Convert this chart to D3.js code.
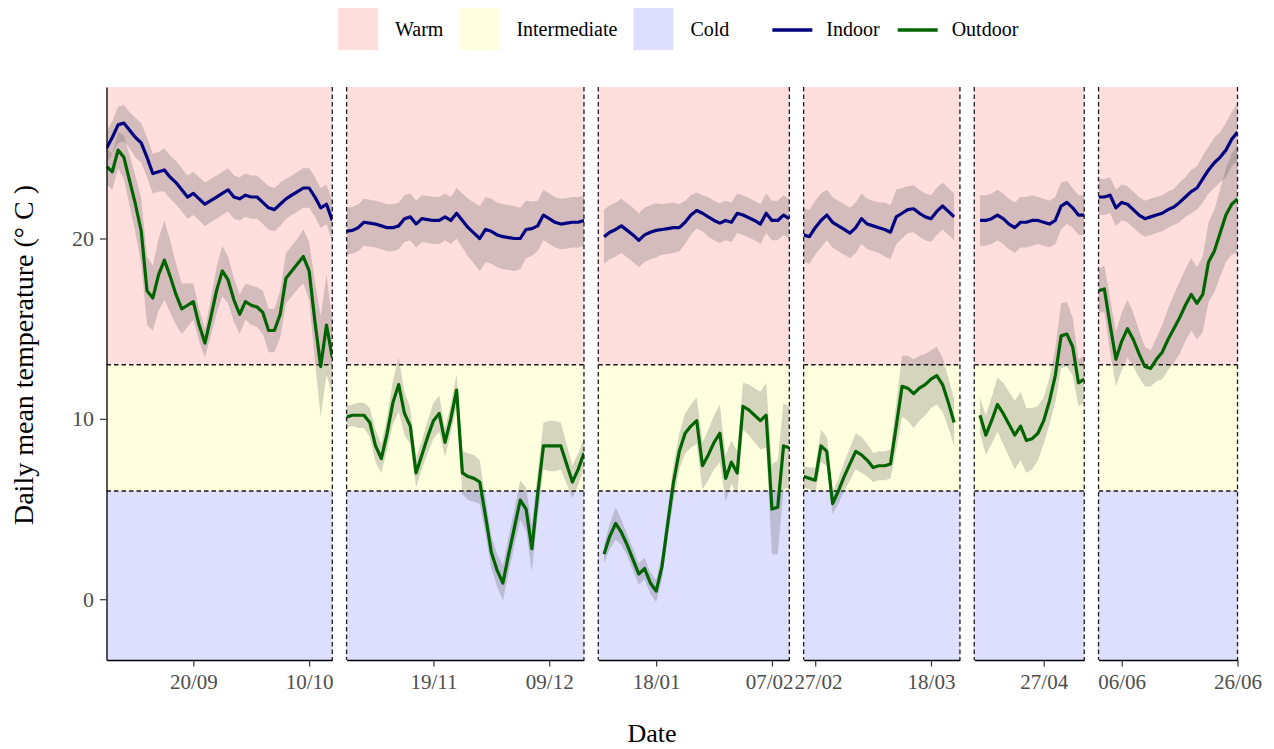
<!DOCTYPE html>
<html>
<head>
<meta charset="utf-8">
<script src="https://cdn.jsdelivr.net/npm/d3@7"></script>
<style>
  html, body { margin: 0; padding: 0; background: #ffffff; }
  svg { display: block; font-family: "Liberation Serif", "Times New Roman", serif; }
</style>
</head>
<body>
<svg id="chart" width="1274" height="749"></svg>
<script>
// Monitoring periods (one facet each) and the first day with data in each
const panelStarts  = ["2019-09-05", "2019-11-04", "2020-01-08", "2020-02-25", "2020-04-15", "2020-06-02"];
const panelEnds    = ["2019-10-14", "2019-12-15", "2020-02-10", "2020-03-23", "2020-05-04", "2020-06-26"];
const seriesStarts = ["2019-09-05", "2019-11-04", "2020-01-09", "2020-02-25", "2020-04-16", "2020-06-02"];

// Daily mean indoor temperature (°C), one array per period
const indoorMean = [
  [25.0,25.6,26.3,26.4,26.0,25.6,25.3,24.5,23.6,23.7,23.8,23.4,23.1,22.7,22.3,22.5,22.2,21.9,22.1,22.3,
   22.5,22.7,22.3,22.2,22.4,22.3,22.3,22.0,21.7,21.6,21.9,22.2,22.4,22.6,22.8,22.8,22.3,21.7,21.9,21.0],
  [20.4,20.45,20.6,20.9,20.85,20.8,20.7,20.6,20.6,20.7,21.1,21.2,20.8,21.1,21.05,21.0,21.0,21.2,21.0,21.4,
   21.0,20.6,20.3,20.0,20.5,20.4,20.2,20.1,20.05,20.0,20.0,20.5,20.55,20.7,21.3,21.1,20.9,20.8,20.85,20.9,20.9,21.0],
  [20.1,20.35,20.5,20.7,20.45,20.2,19.9,20.2,20.35,20.45,20.5,20.55,20.6,20.6,20.9,21.3,21.55,21.4,21.2,21.0,
   20.85,21.0,20.9,21.4,21.3,21.15,21.0,20.8,21.4,21.0,21.0,21.3,21.1],
  [20.2,20.1,20.6,21.0,21.3,20.9,20.7,20.5,20.3,20.6,21.1,20.8,20.7,20.6,20.5,20.35,21.2,21.4,21.6,21.65,
   21.4,21.2,21.1,21.5,21.8,21.5,21.2],
  [21.0,21.0,21.1,21.3,21.1,20.8,20.6,20.9,20.9,21.0,21.0,20.9,20.8,21.0,21.8,22.0,21.7,21.3,21.3],
  [22.3,22.3,22.4,21.7,22.0,21.9,21.6,21.3,21.1,21.2,21.3,21.4,21.6,21.75,22.0,22.3,22.6,22.8,23.3,23.8,
   24.2,24.5,24.9,25.5,25.9]
];

// Daily mean outdoor temperature (°C)
const outdoorMean = [
  [24.0,23.7,24.9,24.5,23.2,21.9,20.4,17.1,16.7,18.0,18.8,17.9,16.9,16.1,16.3,16.5,15.2,14.2,15.6,17.1,
   18.2,17.7,16.6,15.8,16.5,16.3,16.2,15.9,14.9,14.9,15.8,17.8,18.2,18.6,19.0,18.2,15.4,12.9,15.2,13.4],
  [10.1,10.2,10.2,10.2,9.8,8.5,7.8,9.2,10.9,11.9,10.3,9.6,7.0,8.0,9.0,9.9,10.3,8.7,10.0,11.6,
   7.0,6.8,6.7,6.5,4.6,2.6,1.6,0.9,2.5,4.0,5.5,5.0,2.8,5.8,8.5,8.5,8.5,8.5,7.5,6.5,7.2,8.1],
  [2.5,3.5,4.2,3.7,3.0,2.2,1.4,1.7,0.9,0.45,1.8,4.2,6.5,8.2,9.2,9.6,9.9,7.4,8.0,8.7,
   9.2,6.7,7.6,7.0,10.7,10.5,10.2,9.9,10.2,5.0,5.1,8.5,8.4],
  [6.8,6.7,6.6,8.5,8.2,5.3,6.0,6.8,7.5,8.2,8.0,7.7,7.3,7.4,7.4,7.5,9.6,11.8,11.7,11.4,
   11.7,11.9,12.2,12.4,11.9,10.9,9.8],
  [10.2,9.1,9.9,10.8,10.3,9.7,9.1,9.6,8.8,8.9,9.2,9.9,11.0,12.4,14.6,14.7,14.0,12.0,12.2],
  [17.1,17.2,15.2,13.3,14.3,15.0,14.4,13.6,12.9,12.8,13.3,13.7,14.4,15.0,15.6,16.3,16.9,16.4,16.9,18.7,
   19.3,20.3,21.3,21.9,22.2]
];

// Half-width of the shaded band around each daily mean (°C)
const indoorSd = [
  [0.9,0.9,1.0,1.0,1.0,1.1,1.1,1.1,1.1,1.1,1.2,1.2,1.2,1.2,1.2,1.2,1.2,1.2,1.2,1.2,
   1.2,1.2,1.2,1.2,1.2,1.2,1.2,1.2,1.2,1.2,1.2,1.1,1.1,1.1,1.1,1.1,1.1,1.1,1.1,1.1],
  [1.3,1.3,1.3,1.3,1.3,1.3,1.3,1.3,1.3,1.3,1.3,1.3,1.3,1.3,1.3,1.3,1.3,1.3,1.3,1.4,
   1.5,1.6,1.7,1.8,1.8,1.8,1.8,1.8,1.8,1.8,1.7,1.6,1.5,1.4,1.4,1.4,1.4,1.4,1.4,1.4,1.4,1.4],
  [1.5,1.5,1.5,1.5,1.5,1.5,1.5,1.5,1.5,1.5,1.4,1.4,1.4,1.3,1.2,1.1,1.0,1.0,1.1,1.1,
   1.1,1.1,1.1,1.1,1.1,1.1,1.1,1.1,1.1,1.1,1.1,1.1,1.1],
  [1.5,1.5,1.5,1.5,1.4,1.4,1.4,1.4,1.4,1.4,1.4,1.4,1.4,1.4,1.5,1.5,1.5,1.4,1.3,1.3,
   1.3,1.3,1.3,1.3,1.3,1.3,1.3],
  [1.4,1.4,1.4,1.4,1.4,1.4,1.4,1.4,1.4,1.4,1.3,1.3,1.3,1.3,1.3,1.2,1.1,1.1,1.1],
  [1.0,1.0,1.0,1.0,1.0,1.0,1.0,1.0,1.0,1.0,1.0,1.0,1.0,1.0,1.1,1.1,1.2,1.2,1.3,1.3,
   1.4,1.4,1.5,1.5,1.6]
];

const outdoorSd = [
  [1.0,1.0,1.0,1.2,1.4,1.6,1.8,1.9,1.8,2.0,2.2,2.0,1.7,1.4,1.2,1.0,0.9,0.8,1.0,1.3,
   1.4,1.3,1.2,1.1,1.0,1.1,1.1,1.2,1.2,1.2,1.3,1.4,1.4,1.4,1.5,1.6,2.2,2.8,2.8,2.0],
  [0.6,0.6,0.7,0.7,0.8,0.9,0.8,0.9,1.2,1.5,1.2,1.0,0.8,0.8,0.9,1.0,1.0,0.8,0.8,0.9,
   1.2,1.3,1.3,1.2,1.0,0.9,0.9,1.0,1.0,1.0,1.1,1.2,1.3,1.2,1.3,1.4,1.4,1.3,1.1,0.9,0.9,0.8],
  [0.5,0.7,0.9,0.7,0.6,0.6,0.6,0.6,0.6,0.6,0.7,0.8,1.0,1.0,1.1,1.2,1.3,1.3,1.4,1.5,
   1.6,1.3,1.2,1.2,1.3,1.4,1.5,1.6,1.8,2.5,2.6,2.4,2.2],
  [0.6,0.6,0.7,0.9,0.8,0.6,0.7,0.8,0.9,1.0,1.0,0.9,0.8,0.8,0.8,0.8,1.3,1.7,1.8,1.9,
   1.8,1.7,1.6,1.6,1.5,1.4,1.3],
  [1.0,1.1,1.3,1.5,1.7,1.8,1.9,1.9,1.8,1.7,1.5,1.3,1.3,1.5,1.8,1.8,1.6,1.3,1.3],
  [1.2,1.3,1.5,1.5,1.6,1.6,1.5,1.3,1.1,1.0,1.2,1.5,1.7,1.9,2.0,2.0,2.0,2.0,2.1,2.2,
   2.3,2.4,2.6,2.8,3.0]
];

// Comfort zones: thresholds between them, names and fills
const zoneNames   = ["Warm", "Intermediate", "Cold"];
const zoneColors  = ["#ffdede", "#ffffe0", "#dedeff"];
const zoneBreaks  = [13, 6];

// Series names and colours
const seriesNames  = ["Indoor", "Outdoor"];
const seriesColors = ["#000080", "#006400"];

// Axis ticks
const yTicks = [0, 10, 20];
const xTickDates  = ["2019-09-20", "2019-10-10", "2019-11-19", "2019-12-09", "2020-01-18", "2020-02-07",
                     "2020-02-27", "2020-03-18", "2020-04-27", "2020-06-06", "2020-06-26"];
const xTickLabels = ["20/09", "10/10", "19/11", "09/12", "18/01", "07/02", "27/02", "18/03", "27/04", "06/06", "26/06"];

// ---------------------------------------------------------------------------
const svg = d3.select("#chart");
const parse = d3.utcParse("%Y-%m-%d");
const DAY = 864e5;

const plotLeft = 106.5, plotRight = 1237.5, plotTop = 87, plotBottom = 660;
const gap = 14.3;

const spans = panelStarts.map((s, i) => (parse(panelEnds[i]) - parse(s)) / DAY);
const totalDays = d3.sum(spans);
const pxPerDay = (plotRight - plotLeft - gap * (spans.length - 1)) / totalDays;

const y = d3.scaleLinear().domain([-3.37, 28.4]).range([plotBottom, plotTop]);

let cursor = plotLeft;
const panels = spans.map((n, i) => {
  const x = d3.scaleUtc()
    .domain([parse(panelStarts[i]), parse(panelEnds[i])])
    .range([cursor, cursor + n * pxPerDay]);
  cursor += n * pxPerDay + gap;
  return x;
});

const zoneBounds = [[y.domain()[1], zoneBreaks[0]], [zoneBreaks[0], zoneBreaks[1]], [zoneBreaks[1], y.domain()[0]]];

const defs = svg.append("defs");

function seriesPoints(i, means, sds) {
  const start = parse(seriesStarts[i]);
  return means[i].map((v, k) => ({ date: new Date(+start + k * DAY), v, sd: sds[i][k] }));
}

const dash = { stroke: "#1a1a1a", width: 1.3, array: "4.5,3" };
const tickFont = 21;

panels.forEach((x, i) => {
  const [x0, x1] = x.range();
  const g = svg.append("g");

  defs.append("clipPath").attr("id", "clip" + i)
    .append("rect").attr("x", x0).attr("y", plotTop).attr("width", x1 - x0).attr("height", plotBottom - plotTop);

  // zone backgrounds
  g.selectAll("rect.zone").data(zoneBounds).join("rect")
    .attr("class", "zone")
    .attr("x", x0).attr("width", x1 - x0)
    .attr("y", d => y(d[0])).attr("height", d => y(d[1]) - y(d[0]))
    .attr("fill", (d, j) => zoneColors[j]);

  const series = [
    seriesPoints(i, indoorMean, indoorSd),
    seriesPoints(i, outdoorMean, outdoorSd)
  ];

  const area = d3.area()
    .x(d => x(d.date)).y0(d => y(d.v - d.sd)).y1(d => y(d.v + d.sd));
  const line = d3.line().x(d => x(d.date)).y(d => y(d.v));

  const body = g.append("g").attr("clip-path", `url(#clip${i})`);

  body.selectAll("path.band").data(series).join("path")
    .attr("class", "band")
    .attr("d", area)
    .attr("fill", "rgb(80,80,80)").attr("fill-opacity", 0.24);

  // zone thresholds
  body.selectAll("line.thr").data(zoneBreaks).join("line")
    .attr("class", "thr")
    .attr("x1", x0).attr("x2", x1)
    .attr("y1", d => y(d)).attr("y2", d => y(d))
    .attr("stroke", dash.stroke).attr("stroke-width", dash.width).attr("stroke-dasharray", dash.array);

  body.selectAll("path.series").data(series).join("path")
    .attr("class", "series")
    .attr("d", line)
    .attr("fill", "none")
    .attr("stroke", (d, j) => seriesColors[j])
    .attr("stroke-width", 3.2)
    .attr("stroke-linejoin", "round");

  // period boundaries
  const edges = i === 0 ? [x1] : [x0, x1];
  g.selectAll("line.edge").data(edges).join("line")
    .attr("class", "edge")
    .attr("x1", d => d).attr("x2", d => d)
    .attr("y1", plotTop).attr("y2", plotBottom)
    .attr("stroke", dash.stroke).attr("stroke-width", dash.width).attr("stroke-dasharray", dash.array);

  // x axis
  const ticks = xTickDates.map(parse).filter(d => d >= x.domain()[0] && d <= x.domain()[1]);
  const labelOf = d => xTickLabels[xTickDates.map(parse).findIndex(t => +t === +d)];
  const ax = g.append("g").attr("class", "xaxis").attr("transform", `translate(0,${plotBottom})`)
    .call(d3.axisBottom(x).tickValues(ticks).tickFormat(labelOf).tickSize(6.5).tickSizeOuter(0).tickPadding(8));
  ax.select(".domain").attr("stroke", "#000").attr("stroke-width", 1.3);
  ax.selectAll(".tick line").attr("stroke", "#333").attr("stroke-width", 1.2);
  ax.selectAll(".tick text").attr("fill", "#4d4d4d").attr("font-size", tickFont).attr("font-family", "Liberation Serif");
});

// nudge neighbouring date labels apart where adjacent facets make them collide
(function separateLabels() {
  const labels = svg.selectAll(".xaxis .tick text").nodes()
    .map(n => ({ n, box: n.getBoundingClientRect(), dx: 0 }))
    .sort((a, b) => a.box.left - b.box.left);
  for (let k = 1; k < labels.length; k++) {
    const a = labels[k - 1], b = labels[k];
    const overlap = (a.box.right + a.dx) - (b.box.left + b.dx) + 1;
    if (overlap > 0) { a.dx -= overlap / 2; b.dx += overlap / 2; }
  }
  labels.forEach(l => { if (l.dx) d3.select(l.n).attr("dx", l.dx); });
})();

// y axis on the first facet
const yAx = svg.append("g").attr("transform", `translate(${plotLeft},0)`)
  .call(d3.axisLeft(y).tickValues(yTicks).tickSize(6.5).tickSizeOuter(0).tickPadding(6));
yAx.select(".domain").attr("stroke", "#000").attr("stroke-width", 1.3);
yAx.selectAll(".tick line").attr("stroke", "#333").attr("stroke-width", 1.2);
yAx.selectAll(".tick text").attr("fill", "#4d4d4d").attr("font-size", 22).attr("font-family", "Liberation Serif");

// axis titles
svg.append("text")
  .attr("x", 652).attr("y", 742)
  .attr("text-anchor", "middle").attr("font-size", 26).attr("fill", "#000")
  .text("Date");
svg.append("text")
  .attr("transform", `translate(33,355) rotate(-90)`)
  .attr("text-anchor", "middle").attr("font-size", 28).attr("fill", "#000")
  .text("Daily mean temperature (° C )");

// legend
const legend = svg.append("g").attr("font-size", 20);
let lx = 338;
const legendMid = 29;
zoneNames.forEach((name, j) => {
  legend.append("rect").attr("x", lx).attr("y", legendMid - 21).attr("width", 40).attr("height", 42)
    .attr("fill", zoneColors[j]);
  const t = legend.append("text").attr("x", lx + 57).attr("y", legendMid + 7).text(name);
  lx += 57 + t.node().getComputedTextLength() + 16;
});
lx += 27;
seriesNames.forEach((name, j) => {
  legend.append("line").attr("x1", lx).attr("x2", lx + 40).attr("y1", legendMid + 1).attr("y2", legendMid + 1)
    .attr("stroke", seriesColors[j]).attr("stroke-width", 3.6);
  const t = legend.append("text").attr("x", lx + 54).attr("y", legendMid + 7).text(name);
  lx += 54 + t.node().getComputedTextLength() + 18;
});
</script>
</body>
</html>
